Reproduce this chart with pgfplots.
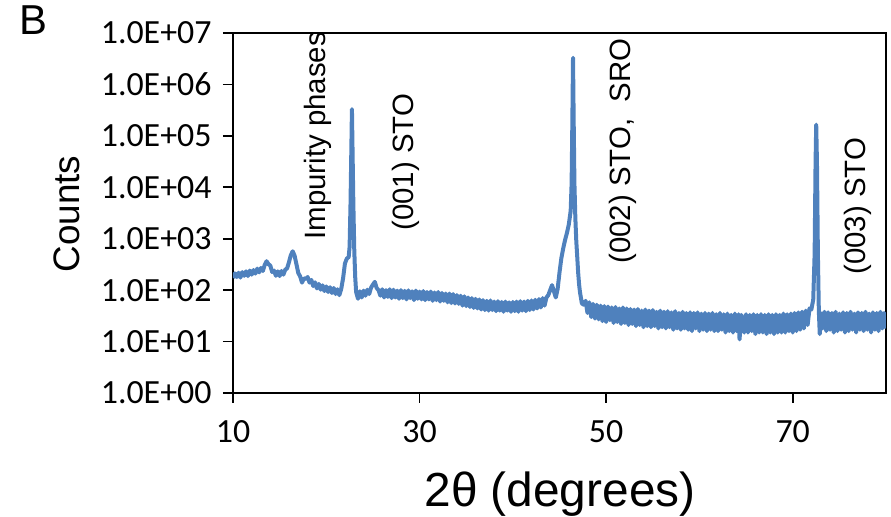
\documentclass[border=0pt]{standalone}
\usepackage{fontspec}
\setmainfont{Liberation Sans}
\newfontfamily\carlito{Carlito}
\usepackage{pgfplots}
\pgfplotsset{compat=1.18}
\usepackage{pgfplotstable}
\definecolor{xrdblue}{RGB}{79,129,189}
\pgfplotstableread{
x y
10.0 172
10.2 212
10.4 180
10.6 218
10.8 176
11.0 224
11.2 190
11.4 232
11.6 188
11.8 240
12.0 200
12.2 246
12.4 210
12.6 262
12.8 222
13.0 270
13.2 236
13.4 310
13.6 365
13.8 320
14.0 300
14.2 225
14.4 240
14.6 190
14.8 232
15.0 188
15.2 236
15.4 200
15.6 250
15.8 265
16.0 350
16.2 480
16.4 570
16.6 470
16.8 320
17.0 215
17.2 185
17.4 140
17.6 170
17.8 165
18.0 180
18.2 140
18.4 158
18.6 120
18.8 142
19.0 108
19.2 132
19.4 102
19.6 124
19.8 96
20.0 118
20.2 92
20.4 114
20.6 88
20.8 110
21.0 84
21.2 104
21.4 80
21.6 105
21.8 170
22.0 330
22.2 410
22.4 440
22.5 700
22.6 5000
22.7 80000
22.75 330000
22.8 80000
22.9 5000
23.0 600
23.1 180
23.2 92
23.4 68
23.6 95
23.8 72
24.0 98
24.2 78
24.4 102
24.6 84
24.8 112
25.0 128
25.2 145
25.4 110
25.6 100
25.8 78
26.0 104
26.2 72
26.4 100
26.6 74
26.8 104
27.0 70
27.2 102
27.4 72
27.6 98
27.8 68
28.0 100
28.2 70
28.4 97
28.6 66
28.8 99
29.0 70
29.2 95
29.4 64
29.6 98
29.8 68
30.0 94
30.2 66
30.4 96
30.6 64
30.8 92
31.0 66
31.2 94
31.4 62
31.6 90
31.8 64
32.0 92
32.2 60
32.4 88
32.6 62
32.8 86
33.0 58
33.2 86
33.4 56
33.6 84
33.8 55
34.0 80
34.2 54
34.4 78
34.6 50
34.8 76
35.0 49
35.2 72
35.4 47
35.6 70
35.8 45
36.0 68
36.2 44
36.4 66
36.6 42
36.8 64
37.0 41
37.2 62
37.4 40
37.6 63
37.8 41
38.0 60
38.2 39
38.4 61
38.6 40
38.8 59
39.0 38
39.2 60
39.4 40
39.6 58
39.8 38
40.0 59
40.2 39
40.4 60
40.6 38
40.8 61
41.0 40
41.2 60
41.4 39
41.6 62
41.8 41
42.0 63
42.2 42
42.4 65
42.6 44
42.8 67
43.0 46
43.2 70
43.4 50
43.6 72
43.8 80
44.0 100
44.2 125
44.4 95
44.6 72
44.8 105
45.0 220
45.2 420
45.4 650
45.6 950
45.8 1300
46.0 1900
46.2 3500
46.3 12000
46.38 200000
46.45 3300000
46.52 200000
46.6 12000
46.7 2500
46.8 900
46.9 450
47.0 220
47.1 130
47.2 90
47.4 55
47.6 52
47.8 62
48.0 36
48.2 58
48.4 30
48.6 54
48.8 28
49.0 52
49.2 27
49.4 50
49.6 25
49.8 49
50.0 24
50.2 48
50.4 26
50.6 46
50.8 23
51.0 47
51.2 24
51.4 44
51.6 22
51.8 46
52.0 23
52.2 44
52.4 21
52.6 43
52.8 22
53.0 42
53.2 20
53.4 43
53.6 21
53.8 40
54.0 19
54.2 42
54.4 20
54.6 40
54.8 19
55.0 41
55.2 20
55.4 38
55.6 18
55.8 40
56.0 19
56.2 38
56.4 18
56.6 39
56.8 19
57.0 37
57.2 17
57.4 39
57.6 18
57.8 36
58.0 17
58.2 38
58.4 18
58.6 36
58.8 17
59.0 37
59.2 16
59.4 36
59.6 18
59.8 37
60.0 16
60.2 35
60.4 17
60.6 36
60.8 16
61.0 35
61.2 17
61.4 36
61.6 16
61.8 34
62.0 16
62.2 36
62.4 17
62.6 34
62.8 15
63.0 35
63.2 16
63.4 33
63.6 15
63.8 35
64.0 16
64.2 34
64.3 11
64.5 33
64.8 15
65.0 34
65.2 15
65.4 33
65.6 16
65.8 34
66.0 14
66.2 33
66.4 15
66.6 34
66.8 15
67.0 33
67.2 14
67.4 34
67.6 15
67.8 33
68.0 14
68.2 34
68.4 15
68.6 33
68.8 15
69.0 35
69.2 15
69.4 34
69.6 16
69.8 35
70.0 15
70.2 36
70.4 16
70.6 37
70.8 17
71.0 38
71.2 18
71.4 40
71.6 21
71.8 44
72.0 42
72.2 65
72.35 500
72.45 30000
72.52 165000
72.6 30000
72.7 500
72.8 40
72.9 14
73.0 36
73.2 18
73.4 38
73.6 16
73.8 37
74.0 17
74.2 36
74.4 15
74.6 38
74.8 16
75.0 35
75.2 17
75.4 37
75.6 15
75.8 36
76.0 16
76.2 38
76.4 17
76.6 35
76.8 15
77.0 37
77.2 17
77.4 36
77.6 16
77.8 38
78.0 17
78.2 35
78.4 15
78.6 37
78.8 17
79.0 36
79.2 16
79.4 38
79.6 18
79.8 36
80.0 18
}\xrd
\begin{document}
\begin{tikzpicture}
\useasboundingbox (-233bp,-124bp) rectangle (658bp,393bp);
\begin{axis}[
  scale only axis,
  width=653bp, height=360bp,
  at={(0,0)}, anchor=south west,
  ymode=log,
  xmin=10, xmax=80, ymin=1, ymax=1e7,
  xtick={10,30,50,70},
  xticklabels={10,30,50,70},
  ytick={1,10,100,1000,10000,100000,1000000,10000000},
  yticklabels={1.0E+00,1.0E+01,1.0E+02,1.0E+03,1.0E+04,1.0E+05,1.0E+06,1.0E+07},
  yminorticks=false, xminorticks=false,
  tick pos=left,
  tick align=outside,
  major tick length=10bp,
  axis line style={line width=1.6bp, black},
  every tick/.style={line width=1.6bp, black},
  tick label style={font=\carlito\fontsize{34}{40}\selectfont},
  yticklabel style={anchor=east, xshift=-8bp},
  xticklabel style={anchor=north, yshift=-14bp},
]
\addplot[color=xrdblue, line width=4bp, line join=round, no markers] table[x=x, y=y] {\xrd};
\end{axis}
\node[font=\fontsize{42}{46}\selectfont] at (-199.5bp,373bp) {B};
\node[rotate=90, font=\fontsize{37}{42}\selectfont] at (-166bp,179bp) {Counts};
\node[anchor=base, font=\fontsize{48}{54}\selectfont] at (327bp,-113bp) {2θ (degrees)};
\node[rotate=90, anchor=base west, font=\fontsize{29.5}{34}\selectfont] at (92bp,150bp) {Impurity phases};
\node[rotate=90, anchor=base west, font=\fontsize{29.5}{34}\selectfont] at (180bp,159bp) {(001) STO};
\node[rotate=90, anchor=base west, font=\fontsize{29.5}{34}\selectfont] at (397bp,126bp) {(002) STO,\ \ SRO};
\node[rotate=90, anchor=base west, font=\fontsize{29.5}{34}\selectfont] at (632bp,115bp) {(003) STO};
\end{tikzpicture}
\end{document}
